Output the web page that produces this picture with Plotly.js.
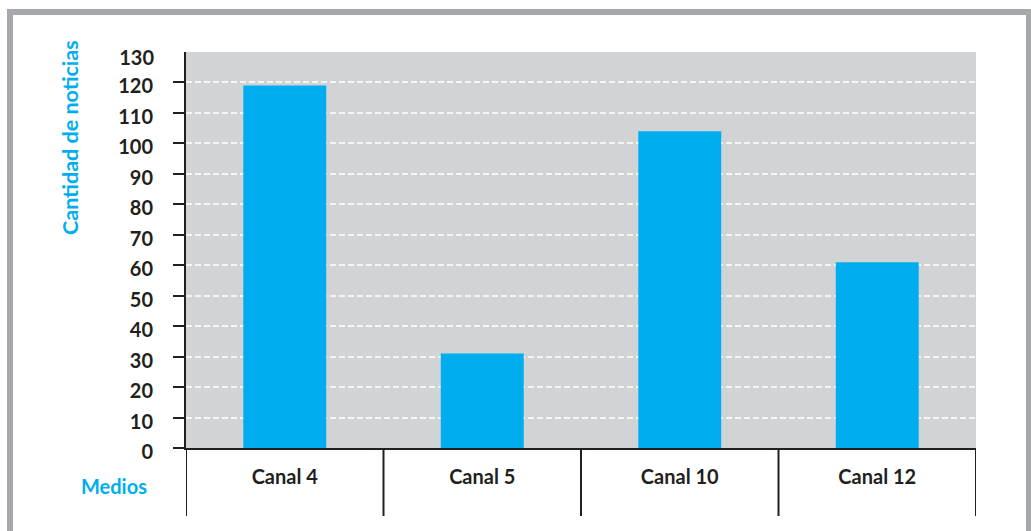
<!DOCTYPE html>
<html>
<head>
<meta charset="utf-8">
<script src="https://cdn.plot.ly/plotly-3.0.1.min.js"></script>
<style>html,body{margin:0;padding:0;background:#fff;}#chart{width:1031px;height:531px;}</style>
</head>
<body>
<div id="chart"></div>
<script>
const categories = ["Canal 4", "Canal 5", "Canal 10", "Canal 12"];
const noticias = [119, 31, 104, 61];
const yTicks = [0, 10, 20, 30, 40, 50, 60, 70, 80, 90, 100, 110, 120];
const yTopTick = [130];
const yTitle = "Cantidad de noticias";
const xTitle = "Medios";

const W = 1031, H = 531, L = 186, R = 976, T = 52, B = 448;
const px = p => (p - L) / (R - L);
const py = p => (B - p) / (B - T);
const dark = "#231f20", cyan = "#00aeef", frame = "#a7a8ab";
const fontFam = "Lato, 'Open Sans', sans-serif";

const shapes = [];
// outer frame
shapes.push({type:"rect", xref:"paper", yref:"paper", x0:px(7), x1:px(1031), y0:py(9), y1:py(15), fillcolor:frame, line:{width:0}, layer:"below"});
shapes.push({type:"rect", xref:"paper", yref:"paper", x0:px(7), x1:px(13), y0:py(9), y1:py(531), fillcolor:frame, line:{width:0}, layer:"below"});
shapes.push({type:"rect", xref:"paper", yref:"paper", x0:px(1026), x1:px(1031), y0:py(9), y1:py(531), fillcolor:frame, line:{width:0}, layer:"below"});
// category separators below the axis
for (let i = 0; i <= categories.length; i++) {
  shapes.push({type:"line", xref:"x", yref:"paper", x0:i - 0.5, x1:i - 0.5, y0:0, y1:py(516), line:{color:dark, width:2}});
}

const tf = {family: fontFam, size: 20, color: dark, weight: "bold"};

const data = [{
  type: "bar",
  x: categories,
  y: noticias,
  marker: {color: cyan},
  width: 0.42,
  hoverinfo: "x+y"
}, {
  type: "scatter", mode: "markers",
  x: [categories[0]], y: [0], yaxis: "y2",
  marker: {opacity: 0, size: 1},
  hoverinfo: "skip"
}];

const layout = {
  width: W, height: H,
  margin: {l: L, r: W - R, t: T, b: H - B, pad: 0},
  paper_bgcolor: "#ffffff",
  plot_bgcolor: "#d1d3d4",
  showlegend: false,
  font: {family: fontFam, color: dark},
  xaxis: {
    type: "category",
    range: [-0.5, categories.length - 0.5],
    showgrid: false,
    showline: true, linecolor: dark, linewidth: 2,
    ticks: "", ticklabelstandoff: 10,
    tickfont: tf,
    fixedrange: true
  },
  yaxis: {
    range: [0, 130],
    tickvals: yTicks,
    ticktext: yTicks.map(String),
    ticks: "outside", ticklen: 11, tickwidth: 2, tickcolor: dark,
    ticklabelstandoff: 16, ticklabelshift: 4,
    showline: true, linecolor: dark, linewidth: 2,
    showgrid: true, gridcolor: "#f4f4f4", gridwidth: 2, griddash: "6px,3px",
    zeroline: false,
    tickfont: tf,
    fixedrange: true
  },
  yaxis2: {
    overlaying: "y", side: "left",
    range: [0, 130],
    tickvals: yTopTick,
    ticktext: yTopTick.map(String),
    ticks: "outside", ticklen: 11, tickcolor: "rgba(0,0,0,0)", tickwidth: 2,
    ticklabelstandoff: 16, ticklabelshift: 6,
    showline: false, showgrid: false, zeroline: false,
    tickfont: tf,
    fixedrange: true
  },
  shapes: shapes,
  annotations: [
    {xref:"paper", yref:"paper", x:px(70), y:py(138), text:yTitle, textangle:-90, showarrow:false,
     xanchor:"center", yanchor:"middle", font:{family:fontFam, size:21.5, color:cyan, weight:"bold"}},
    {xref:"paper", yref:"paper", x:px(114), y:py(486), text:xTitle, showarrow:false,
     xanchor:"center", yanchor:"middle", font:{family:fontFam, size:20, color:cyan, weight:"bold"}}
  ]
};

Plotly.newPlot("chart", data, layout, {displayModeBar: false, staticPlot: true});
</script>
</body>
</html>
